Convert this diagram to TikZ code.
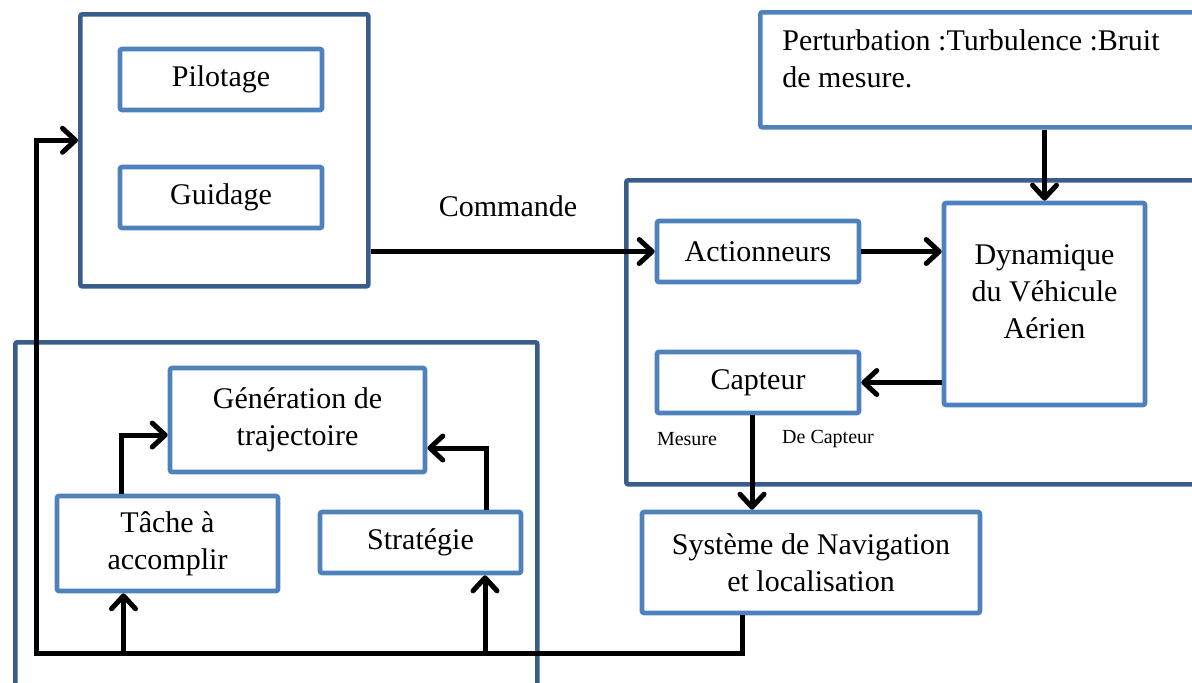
\documentclass[tikz,border=0pt]{standalone}
\usepackage{fontspec}
\setmainfont{Liberation Serif}
\usetikzlibrary{arrows.meta}
\definecolor{outerc}{RGB}{56,93,138}
\definecolor{innerc}{RGB}{79,129,189}
\begin{document}
\begin{tikzpicture}[x=0.5pt,y=-0.5pt,
  outerbox/.style={draw=outerc,line width=2.3pt,rounded corners=1pt,inner sep=0pt},
  innerbox/.style={draw=innerc,line width=2.3pt,rounded corners=1pt,inner sep=0pt,
    font=\fontsize{15}{18.5}\selectfont,align=center},
  lbl/.style={inner sep=0pt,font=\fontsize{15}{18.5}\selectfont},
  small/.style={inner sep=0pt,font=\fontsize{10}{12}\selectfont},
  arr/.style={line width=2.5pt,-{Straight Barb[length=6.5pt,width=12pt,round]}}]
\path[use as bounding box] (0,0) rectangle (1192,682);
\clip (0,0) rectangle (1192,682);
% control block
\node[outerbox,anchor=north west,minimum width=144pt,minimum height=136pt] (ctrl) at (78,12) {};
\node[innerbox,minimum width=101pt,minimum height=30.5pt] (pilot) at (221,79.5) {Pilotage};
\node[innerbox,minimum width=101pt,minimum height=30.5pt] (guid) at (221,197.5) {Guidage};
\node[lbl] (cmd) at (508,206) {Commande};
% plant block
\node[outerbox,anchor=north west,minimum width=296pt,minimum height=152pt] (plant) at (624,178) {};
\node[innerbox,anchor=north west,minimum width=226pt,minimum height=57.5pt] (pert) at (758,10) {};
\node[lbl,anchor=north west,align=left] (perttxt) at (782,29) {Perturbation :Turbulence :Bruit\\de mesure.};
\node[innerbox,minimum width=101pt,minimum height=30.5pt] (act) at (758,251.5) {Actionneurs};
\node[innerbox,minimum width=100.5pt,minimum height=101pt] (dyn) at (1044.5,304) {};
\node[lbl,align=center] (dyntxt) at ([yshift=6pt]dyn.center) {Dynamique\\du Véhicule\\Aérien};
\node[innerbox,minimum width=101pt,minimum height=30.5pt] (capt) at (758,382.5) {Capteur};
\node[small] (mes) at (687,439) {Mesure};
\node[small] (dec) at (828,439) {De Capteur};
\node[innerbox,minimum width=169pt,minimum height=50.5pt] (nav) at (811,562.5) {Système de Navigation\\et localisation};
% mission block
\node[outerbox,anchor=north west,minimum width=261pt,minimum height=200pt] (miss) at (13,340) {};
\node[innerbox,minimum width=127.5pt,minimum height=52pt] (gen) at (297.5,420) {Génération de\\trajectoire};
\node[innerbox,minimum width=110.5pt,minimum height=47.5pt] (tache) at (167.5,543.5) {Tâche à\\accomplir};
\node[innerbox,minimum width=100.5pt,minimum height=30.5pt] (strat) at (420.5,542.5) {Stratégie};
% connectors
\draw[arr] (ctrl.east |- act.west) -- (act.west);
\draw[arr] (act.east) -- (dyn.west |- act.east);
\draw[arr] (pert.south -| dyn.north) -- (dyn.north);
\draw[arr] (dyn.west |- capt.east) -- (capt.east);
\coordinate (cb) at ([xshift=-3pt]capt.south);
\draw[arr] (cb) -- (cb |- nav.north);
\coordinate (fl) at (36,653);
\coordinate (nb) at ([xshift=-34.5pt]nav.south);
\draw[arr] (nb) |- (fl) |- ([yshift=5pt]ctrl.west);
\coordinate (tb) at ([xshift=-22pt]tache.south);
\draw[arr] (tb |- fl) -- (tb);
\coordinate (tt) at ([xshift=-23pt]tache.north);
\draw[arr] (tt) |- ([yshift=-7.5pt]gen.west);
\coordinate (sb) at ([xshift=32.25pt]strat.south);
\draw[arr] (sb |- fl) -- (sb);
\coordinate (st) at ([xshift=32.75pt]strat.north);
\draw[arr] (st) |- ([yshift=-14pt]gen.east);
\end{tikzpicture}
\end{document}
